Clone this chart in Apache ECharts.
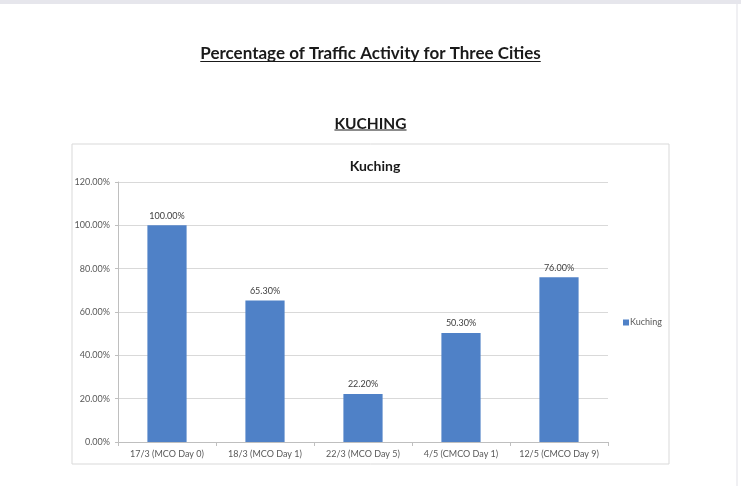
<!DOCTYPE html>
<html>
<head>
<meta charset="utf-8">
<script src="https://cdn.jsdelivr.net/npm/echarts@6/dist/echarts.min.js"></script>
<style>
html,body{margin:0;padding:0;background:#fff;}
#c{width:741px;height:486px;}
</style>
</head>
<body>
<div id="c"></div>
<script>
const pageTitle = 'Percentage of Traffic Activity for Three Cities';
const sectionTitle = 'KUCHING';
const chartTitle = 'Kuching';
const seriesName = 'Kuching';
const categories = ['17/3 (MCO Day 0)', '18/3 (MCO Day 1)', '22/3 (MCO Day 5)', '4/5 (CMCO Day 1)', '12/5 (CMCO Day 9)'];
const values = [100.0, 65.3, 22.2, 50.3, 76.0];
const yTicks = [0, 20, 40, 60, 80, 100, 120];

const FONT = 'Lato';
function textWidth(str, size, weight) {
  const ctx = document.createElement('canvas').getContext('2d');
  ctx.font = weight + ' ' + size + 'px ' + FONT;
  return ctx.measureText(str).width;
}
const W = 741;
const t1Size = 17, t2Size = 15.5;
const t1W = textWidth(pageTitle, t1Size, 'bold');
const t2W = textWidth(sectionTitle, t2Size, 'bold');

const chart = echarts.init(document.getElementById('c'), null, {renderer: 'canvas'});
chart.setOption({
  animation: false,
  backgroundColor: '#ffffff',
  textStyle: {fontFamily: FONT},
  title: [
    {text: pageTitle, left: 'center', top: 40, textStyle: {fontFamily: FONT, fontSize: t1Size, fontWeight: 'bold', color: '#1a1a1a'}},
    {text: sectionTitle, left: 'center', top: 111, textStyle: {fontFamily: FONT, fontSize: t2Size, fontWeight: 'bold', color: '#1a1a1a'}},
    {text: chartTitle, left: 370, textAlign: 'center', top: 154, textStyle: {fontFamily: FONT, fontSize: 14, fontWeight: 'bold', color: '#1a1a1a'}}
  ],
  graphic: [
    {type: 'rect', shape: {x: 0, y: 0, width: 741, height: 4}, style: {fill: '#e6e6ec'}, silent: true},
    {type: 'rect', shape: {x: 736.5, y: 4, width: 1, height: 482}, style: {fill: '#e2e2e8'}, silent: true},
    {type: 'line', shape: {x1: (W - t1W) / 2, y1: 61.5, x2: (W + t1W) / 2, y2: 61.5}, style: {stroke: '#1a1a1a', lineWidth: 1.2}, silent: true},
    {type: 'line', shape: {x1: (W - t2W) / 2, y1: 130, x2: (W + t2W) / 2, y2: 130}, style: {stroke: '#1a1a1a', lineWidth: 1.2}, silent: true},
    {type: 'rect', shape: {x: 72, y: 144, width: 597, height: 320}, style: {fill: 'none', stroke: '#d9d9d9', lineWidth: 1}, silent: true}
  ],
  legend: {
    data: [seriesName],
    left: 618, top: 313,
    orient: 'vertical',
    icon: 'rect', itemWidth: 6, itemHeight: 6, itemGap: 4,
    textStyle: {fontFamily: FONT, fontSize: 9, color: '#595959', padding: [0, 0, 0, -4]}
  },
  grid: {left: 118, right: 133, top: 182, bottom: 44, containLabel: false},
  xAxis: {
    type: 'category',
    data: categories,
    axisLine: {lineStyle: {color: '#bfbfbf'}},
    axisTick: {show: true, length: 4, lineStyle: {color: '#bfbfbf'}},
    axisLabel: {fontFamily: FONT, fontSize: 9, color: '#595959', margin: 8, interval: 0}
  },
  yAxis: {
    type: 'value',
    min: yTicks[0], max: yTicks[yTicks.length - 1], interval: 20,
    axisLine: {show: true, lineStyle: {color: '#bfbfbf'}},
    axisTick: {show: true, length: 3, lineStyle: {color: '#bfbfbf'}},
    axisLabel: {fontFamily: FONT, fontSize: 9, color: '#595959', margin: 8, formatter: v => v.toFixed(2) + '%'},
    splitLine: {lineStyle: {color: '#d9d9d9'}}
  },
  series: [{
    name: seriesName,
    type: 'bar',
    data: values,
    barWidth: '40%',
    itemStyle: {color: '#4f81c7'},
    label: {show: true, position: 'top', distance: 5, fontFamily: FONT, fontSize: 9, color: '#404040', formatter: p => p.value.toFixed(2) + '%'}
  }]
});
</script>
</body>
</html>
